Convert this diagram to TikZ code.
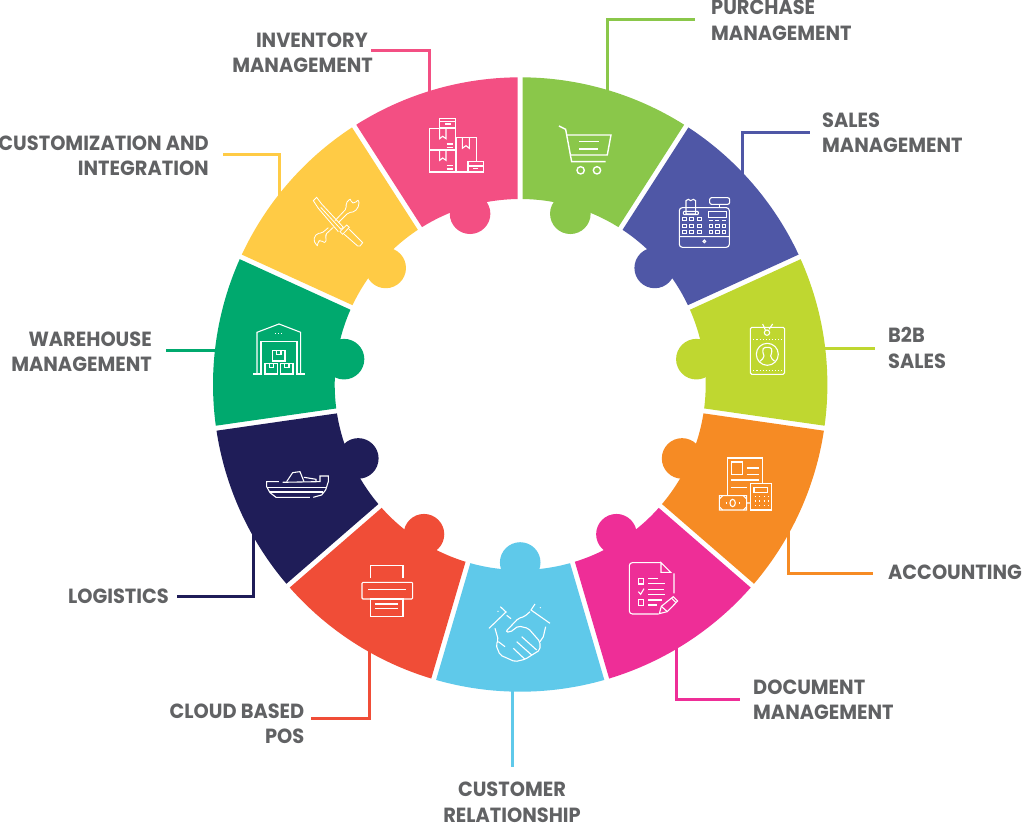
\documentclass[tikz,border=0pt]{standalone}
\usepackage{fontspec}
\setmainfont{Poppins}[FakeStretch=0.945]
\definecolor{cgreen}{HTML}{8AC74A}
\definecolor{cblue}{HTML}{4F57A6}
\definecolor{clime}{HTML}{BFD730}
\definecolor{corange}{HTML}{F68B24}
\definecolor{cmagenta}{HTML}{EE2E97}
\definecolor{csky}{HTML}{5FC9EA}
\definecolor{cred}{HTML}{F04D37}
\definecolor{cnavy}{HTML}{1F1D58}
\definecolor{cemerald}{HTML}{00A96E}
\definecolor{cyellow}{HTML}{FFCB45}
\definecolor{cpink}{HTML}{F34F83}
\definecolor{ctext}{HTML}{616264}
\tikzset{
  leader/.style={line width=3pt},
  labeltext/.style={inner sep=0pt, text=ctext, font=\fontsize{20.5}{25.5}\selectfont\bfseries},
  icon/.style={draw=white, line width=1.1pt, fill=none},
  zoomed/.style={x=0.3333pt, y=-0.3333pt},
}
\begin{document}
\begin{tikzpicture}[x=1pt, y=-1pt]
\useasboundingbox (0,0) rectangle (1026,824);
% Labels {{{
\node[labeltext, anchor=west, align=left] (purchaselabel) at (711,20.5) {PURCHASE\\MANAGEMENT};
\node[labeltext, anchor=west, align=left] (saleslabel) at (822,133) {SALES\\MANAGEMENT};
\node[labeltext, anchor=west, align=left] (btobabel) at (888,348) {B2B\\SALES};
\node[labeltext, anchor=west] (accountinglabel) at (888,572) {ACCOUNTING};
\node[labeltext, anchor=west, align=left] (documentlabel) at (753,699.5) {DOCUMENT\\MANAGEMENT};
\node[labeltext, align=center] (customerlabel) at (512,802.5) {CUSTOMER\\RELATIONSHIP};
\node[labeltext, anchor=east, align=right] (cloudlabel) at (304.5,724) {CLOUD BASED\\POS};
\node[labeltext, anchor=east] (logisticslabel) at (169,596) {LOGISTICS};
\node[labeltext, anchor=east, align=right] (warehouselabel) at (152,352) {WAREHOUSE\\MANAGEMENT};
\node[labeltext, anchor=east, align=right] (customlabel) at (209,156) {CUSTOMIZATION AND\\INTEGRATION};
\node[labeltext, anchor=east, align=right] (inventorylabel) at (373,53) {INVENTORY\hspace*{5pt}\\MANAGEMENT};
% }}}
% Leaders {{{
\coordinate (purchasetip) at (607,100);
\coordinate (salestip) at (742,190);
\coordinate (btobtip) at (820,348);
\coordinate (accountingtip) at (788,520);
\coordinate (documenttip) at (676,640);
\coordinate (customertip) at (512,680);
\coordinate (cloudtip) at (369,650);
\coordinate (logisticstip) at (253,520);
\coordinate (warehousetip) at (225,350);
\coordinate (customtip) at (279,200);
\coordinate (inventorytip) at (429,100);
\draw[leader, cgreen] (purchasetip) |- ([xshift=-16pt, yshift=0.5pt]purchaselabel.west);
\draw[leader, cblue] (salestip) |- ([xshift=-12pt]saleslabel.west);
\draw[leader, clime] (btobtip) -- ([xshift=-13pt]btobabel.west);
\draw[leader, corange] (accountingtip) |- ([xshift=-15pt, yshift=-1pt]accountinglabel.west);
\draw[leader, cmagenta] (documenttip) |- ([xshift=-13pt]documentlabel.west);
\draw[leader, csky] (customertip) -- ([yshift=15.5pt]customerlabel.north);
\draw[leader, cred] (cloudtip) |- ([xshift=6pt, yshift=6pt]cloudlabel.east);
\draw[leader, cnavy] (logisticstip) |- ([xshift=8pt]logisticslabel.east);
\draw[leader, cemerald] (warehousetip) -- ([xshift=14pt, yshift=2pt]warehouselabel.east);
\draw[leader, cyellow] (customtip) |- ([xshift=14pt, yshift=1pt]customlabel.east);
\draw[leader, cpink] (inventorytip) |- ([xshift=-2pt, yshift=2pt]inventorylabel.east);
% }}}
% Ring {{{
\begin{scope}[shift={(520.2,384.5)}, y=1pt]
\foreach \segcolor [count=\i from 0] in {cgreen,cblue,clime,corange,cmagenta,csky,cred,cnavy,cemerald,cyellow,cpink} {
  \pgfmathsetmacro{\startang}{90-\i*32.7273}
  \pgfmathsetmacro{\endang}{\startang-32.7273}
  \pgfmathsetmacro{\midang}{\startang-16.3636}
  \fill[\segcolor] ({\startang-0.47}:307.2)
    arc[start angle=\startang-0.47, end angle=\endang+0.47, radius=307.2]
    -- ({\endang+0.77}:185.5)
    arc[start angle=\endang+0.77, end angle=\startang-0.77, radius=185.5] -- cycle;
  \fill[\segcolor] (\midang:178) circle (20.3);
}
\end{scope}
% }}}
\begin{scope}[shift={(340,70)}, zoomed] % Boxes and cart {{{
\draw[icon] (299,145) rectangle (347,173) (299,155) -- (347,155) (315,162) -- (333,162);
\draw[icon] (269,175) rectangle (347,240) (269,240) rectangle (347,306);
\foreach \y in {175,240} {
  \draw[icon] (299,\y) -- +(0,31) -- +(9,24) -- +(19,31) -- +(19,0);
  \draw[icon] (320,\y+47) -- +(20,0) (320,\y+57) -- +(20,0);
}
\draw[icon] (350,306) -- (350,203) -- (410,203) -- (410,272) (337,306) -- (384,306);
\draw[icon] (367,203) -- (367,235) -- (378,227) -- (388,235) -- (388,203);
\draw[icon] (384,275) rectangle (431,306) (384,288) -- (431,288) (400,296) -- (415,296);
\draw[icon, line width=1.4pt] (657,168) -- (677,178) -- (695,275) -- (797,275);
\draw[icon, line width=1.4pt] (680,195) -- (813,195) -- (802,255) -- (690,255);
\draw[icon, line width=1.4pt] (717,215) -- (777,215) (717,237) -- (773,237);
\draw[icon, line width=1.4pt] (722,301) circle (11) (771,301) circle (11);
\end{scope} % }}}
\begin{scope}[shift={(620,170)}, zoomed] % Register and badge {{{
\draw[icon, rounded corners=3pt] (178,113) -- (328,113) -- (328,232) -- (178,232) -- cycle;
\draw[icon] (178,200) -- (328,200) (253,214) circle (4);
\draw[icon] (198,132) -- (198,92) -- (205,88) -- (212,92) -- (220,88) -- (227,92) -- (227,132) -- cycle;
\draw[icon, rounded corners=1pt] (190,124) rectangle (235,134);
\draw[icon, rounded corners=2pt] (269,83) rectangle (329,103);
\draw[icon] (298,103) -- (298,113) (265,124) rectangle (319,143);
\foreach \x in {188,209,232} {
  \foreach \y in {142,162,181} {
    \draw[icon, line width=0.9pt] (\x,\y) rectangle +(11,9);
  }
}
\foreach \x in {267,286,306} {
  \draw[icon, line width=0.9pt] (\x,151) -- +(12,0);
  \foreach \y in {162,181} {
    \draw[icon, line width=0.9pt] (\x,\y) rectangle +(11,9);
  }
}
\draw[icon, rounded corners=1.5pt] (391,472) rectangle (494,613);
\draw[icon] (441,488) circle (8) (428,462) -- (437,482) (458,462) -- (447,478);
\draw[icon, dotted] (400,508) -- (484,508) (400,601) -- (484,601);
\draw[icon] (442,553) circle (33);
\draw[icon] (420,574) .. controls (425,566) and (432,568) .. (432,558) .. controls (424,535) and (430,532) .. (442,532) .. controls (454,532) and (460,535) .. (452,558) .. controls (452,568) and (459,566) .. (464,574);
\end{scope} % }}}
\begin{scope}[shift={(590,400)}, zoomed] % Accounting and checklist {{{
\draw[icon] (412,285) -- (412,174) -- (518,174) -- (518,250);
\draw[icon] (425,186) rectangle (458,224);
\draw[icon] (470,204) -- (507,204) (470,224) -- (507,224) (423,240) -- (507,240) (423,262) -- (470,262);
\draw[icon] (388,287) rectangle (470,330) (428,309) ellipse (8 and 11) (470,309) -- (482,309);
\draw[icon] (388,297) -- (398,287) (460,287) -- (470,297) (388,320) -- (398,330) (460,330) -- (470,320);
\draw[icon] (407,309) -- (409,309) (447,309) -- (449,309);
\draw[icon, line width=1.5pt] (482,251) rectangle (545,330);
\draw[icon] (492,262) rectangle (533,277);
\foreach \x in {495,508,521,534} {
  \foreach \y in {290,303,316} {
    \draw[icon] (\x,\y) -- +(2,0);
  }
}
\draw[icon, rounded corners=3pt] (213,488) -- (118,488) -- (118,642) -- (206,642);
\draw[icon] (213,488) -- (213,517) -- (242,517) -- cycle (252,520) -- (252,580);
\draw[icon] (145,535) rectangle (161,552) (145,599) rectangle (161,616);
\draw[icon] (145,575) -- (152,583) -- (162,566);
\draw[icon] (175,536) -- (205,536) (175,551) -- (225,551) (175,568) -- (222,568);
\draw[icon] (175,583) -- (225,583) (175,600) -- (215,600) (175,615) -- (200,615);
\draw[icon] (208,641) -- (214,619) -- (250,590) -- (263,603) -- (232,635) -- cycle;
\draw[icon] (245,595) -- (258,608) (214,619) -- (232,635);
\end{scope} % }}}
\begin{scope}[shift={(280,500)}, zoomed] % Printer {{{
\draw[icon] (272,235) -- (272,197) -- (369,197) -- (369,235);
\draw[icon, rounded corners=1pt] (246,247) rectangle (398,297);
\draw[icon, line width=1.5pt] (265,269) -- (377,269);
\draw[icon] (272,297) rectangle (369,349) (285,312) -- (355,312) (285,326) -- (355,326);
\end{scope} % }}}
\begin{scope}[shift={(485,600)}, zoomed] % Handshake {{{
\draw[icon] (12,85) -- (63,36) -- (46,20) (65,46) -- (78,56) (38,33) -- (40,35);
\draw[icon] (195,70) -- (138,30) -- (150,12) (165,22) -- (167,24);
\draw[icon, rounded corners=2pt] (135,35) -- (118,50) -- (100,55) -- (62,95) -- (75,97) -- (100,78) -- (130,85) -- (165,125) -- (165,150) -- (120,178) -- (90,185) -- (45,165) -- (33,135) -- (40,120) -- (30,85);
\draw[icon] (182,80) -- (175,110) -- (165,125);
\draw[icon] (110,110) -- (155,150) (95,125) -- (140,165) (85,145) -- (120,178) (40,125) -- (60,140);
\end{scope} % }}}
\begin{scope}[shift={(305,190)}, zoomed] % Tools {{{
\draw[icon, line width=0.8pt] (47,52) -- (108,118) -- (115,112) -- (50,42) -- (35,22) -- (25,32) -- (40,55) -- (100,125);
\draw[icon, line width=0.8pt] (105,125) -- (125,105) -- (133,112) -- (113,133) -- cycle;
\draw[icon, line width=0.8pt] (133,118) -- (173,158) -- (165,168) -- (158,168) -- (118,133);
\draw[icon, line width=0.8pt, rounded corners=2pt] (70,113) -- (50,130) -- (35,130) -- (25,150) -- (38,170) -- (38,155) -- (48,150) -- (60,160) -- (65,145) -- (60,135) -- (85,112);
\draw[icon, line width=0.8pt, rounded corners=2pt] (90,92) -- (125,55) -- (122,40) -- (137,25) -- (138,38) -- (150,40) -- (160,28) -- (163,45) -- (150,65) -- (130,68) -- (100,98);
\end{scope} % }}}
\begin{scope}[shift={(210,170)}, zoomed] % Warehouse and boat {{{
\draw[icon] (141,610) -- (141,487) -- (207,462) -- (272,487) -- (272,610);
\draw[icon] (130,612) -- (153,612) -- (153,514) -- (261,514) -- (261,612) -- (285,612);
\draw[icon, dotted] (195,491) -- (220,491);
\draw[icon] (188,541) rectangle (225,573) (165,581) rectangle (203,612) (211,581) rectangle (249,612);
\draw[icon] (200,541) -- (200,553) -- (213,553) -- (213,541);
\draw[icon] (178,581) -- (178,592) -- (191,592) -- (191,581);
\draw[icon] (224,581) -- (224,592) -- (237,592) -- (237,581);
\draw[icon] (207,935) -- (170,935) -- (170,950) -- (180,968) -- (198,982) -- (300,982);
\draw[icon] (310,982) -- (335,975) -- (347,960) -- (355,935) -- (355,918) -- (330,918) -- (330,935) -- (218,937);
\draw[icon] (230,935) -- (248,908) -- (270,905) -- (282,935) (282,922) -- (318,928) -- (318,935);
\draw[icon] (172,952) -- (350,952) (180,966) -- (340,966);
\end{scope} % }}}
\end{tikzpicture}
\end{document}
